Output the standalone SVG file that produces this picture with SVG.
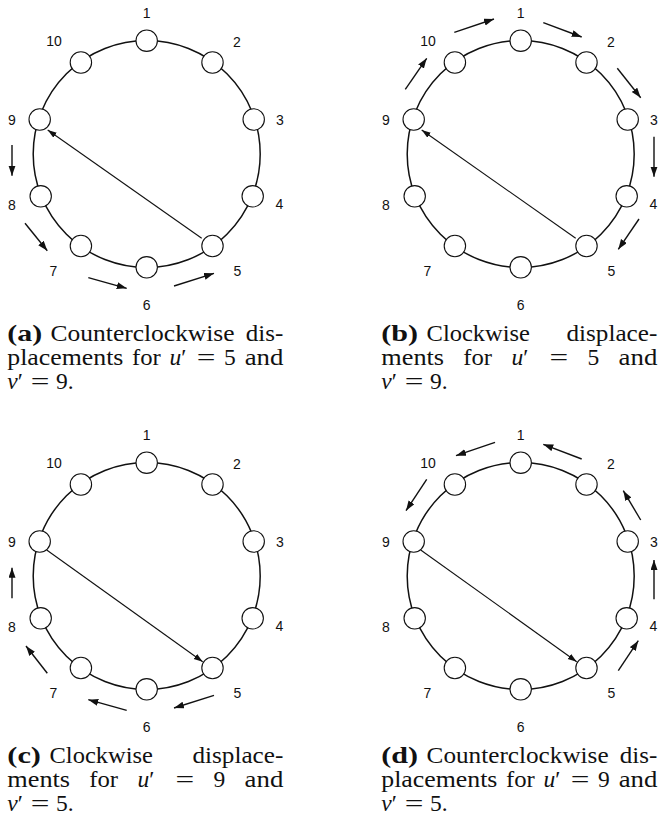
<svg xmlns="http://www.w3.org/2000/svg" width="659" height="827" viewBox="0 0 659 827">
<style>
.ring{fill:none;stroke:#111;stroke-width:1.5}
.node{fill:#fff;stroke:#111;stroke-width:1.1}
.lbl{font-size:14px;fill:#111;text-anchor:middle}
.chord{fill:none;stroke:#111;stroke-width:1.1}
.disp{fill:none;stroke:#111;stroke-width:1.4}
.cap{font-size:23.5px;fill:#111}
.b{font-weight:bold}
.i{font-style:italic}
</style>
<defs>
<marker id="ah" markerUnits="userSpaceOnUse" markerWidth="11" markerHeight="8" refX="10" refY="3.5" orient="auto">
<path d="M0,0 L10,3.5 L0,7 z" fill="#111"/>
</marker>
<marker id="ahc" markerUnits="userSpaceOnUse" markerWidth="10" markerHeight="8" refX="9" refY="3" orient="auto">
<path d="M0,0 L9,3 L0,6 z" fill="#111"/>
</marker>
<g id="ringbase">
<circle class="ring" cx="146.7" cy="154" r="113.5"/>
</g>
</defs>

<!-- Panel (a) -->
<g id="panel-a">
<use href="#ringbase"/>
<g id="a-conn">
<line class="chord" x1="201.7" y1="238.3" x2="47.7" y2="130" marker-end="url(#ahc)"/>
<path class="disp" d="M12,145 L12,175.7" marker-end="url(#ah)"/>
<path class="disp" d="M25,223.3 L47.3,250.7" marker-end="url(#ah)"/>
<path class="disp" d="M88.3,277.7 L126.7,288.3" marker-end="url(#ah)"/>
<path class="disp" d="M174,286 L214,273.3" marker-end="url(#ah)"/>
</g>
<g font-family="Liberation Sans, Arial, sans-serif" style="font-family:'Liberation Sans',Arial,sans-serif">
<g id="a-n1"><circle class="node" cx="146.7" cy="40.7" r="10.7"/><text class="lbl" x="146.7" y="18">1</text></g>
<g id="a-n2"><circle class="node" cx="212.5" cy="62.5" r="10.7"/><text class="lbl" x="237" y="47">2</text></g>
<g id="a-n3"><circle class="node" cx="253.7" cy="119.5" r="10.7"/><text class="lbl" x="280" y="124.5">3</text></g>
<g id="a-n4"><circle class="node" cx="252.7" cy="196.3" r="10.7"/><text class="lbl" x="279.3" y="209.3">4</text></g>
<g id="a-n5"><circle class="node" cx="212.5" cy="246" r="10.7"/><text class="lbl" x="237.3" y="276">5</text></g>
<g id="a-n6"><circle class="node" cx="146.7" cy="267.3" r="10.7"/><text class="lbl" x="146.7" y="310.3">6</text></g>
<g id="a-n7"><circle class="node" cx="80.9" cy="246" r="10.7"/><text class="lbl" x="53.3" y="276">7</text></g>
<g id="a-n8"><circle class="node" cx="40.7" cy="196.3" r="10.7"/><text class="lbl" x="12" y="210.3">8</text></g>
<g id="a-n9"><circle class="node" cx="39.7" cy="119.5" r="10.7"/><text class="lbl" x="12" y="124.6">9</text></g>
<g id="a-n10"><circle class="node" cx="80.9" cy="62.5" r="10.7"/><text class="lbl" x="54" y="46">10</text></g>
</g>
<g id="a-cap" class="cap" font-family="Liberation Serif, Times New Roman, serif" style="font-family:'Liberation Serif','Times New Roman',serif">
<text x="7.3" y="341" class="b" textLength="34.9" lengthAdjust="spacingAndGlyphs">(a)</text>
<text x="50.6" y="341" textLength="184" lengthAdjust="spacingAndGlyphs">Counterclockwise</text>
<text x="245.8" y="341" textLength="37.5" lengthAdjust="spacingAndGlyphs">dis-</text>
<text x="7.3" y="365" textLength="116.1" lengthAdjust="spacingAndGlyphs">placements</text>
<text x="132" y="365" textLength="28.8" lengthAdjust="spacingAndGlyphs">for</text>
<text x="169.4" y="365"><tspan class="i">u</tspan>′</text>
<text x="196.8" y="365" textLength="18.7" lengthAdjust="spacingAndGlyphs">=</text>
<text x="224.1" y="365">5</text>
<text x="244.7" y="365" textLength="38.7" lengthAdjust="spacingAndGlyphs">and</text>
<text x="7.3" y="389"><tspan class="i">v</tspan>′</text>
<text x="30.7" y="389" textLength="18.7" lengthAdjust="spacingAndGlyphs">=</text>
<text x="56.1" y="389">9.</text>
</g>
</g>

<!-- Panel (b) -->
<g id="panel-b" transform="translate(374,0)">
<use href="#ringbase"/>
<g id="b-conn">
<line class="chord" x1="201.7" y1="238.3" x2="47.7" y2="130" marker-end="url(#ahc)"/>
<path class="disp" d="M31.3,89.3 L52.7,58.3" marker-end="url(#ah)"/>
<path class="disp" d="M80.3,32.3 L120,19" marker-end="url(#ah)"/>
<path class="disp" d="M169.3,22.7 L207.7,37" marker-end="url(#ah)"/>
<path class="disp" d="M243.3,68.3 L266.7,97.7" marker-end="url(#ah)"/>
<path class="disp" d="M280,136.7 L280,176.7" marker-end="url(#ah)"/>
<path class="disp" d="M265,219 L244.3,249.3" marker-end="url(#ah)"/>
</g>
<g font-family="Liberation Sans, Arial, sans-serif" style="font-family:'Liberation Sans',Arial,sans-serif">
<g id="b-n1"><circle class="node" cx="146.7" cy="40.7" r="10.7"/><text class="lbl" x="146.7" y="18">1</text></g>
<g id="b-n2"><circle class="node" cx="212.5" cy="62.5" r="10.7"/><text class="lbl" x="237" y="47">2</text></g>
<g id="b-n3"><circle class="node" cx="253.7" cy="119.5" r="10.7"/><text class="lbl" x="280" y="124.5">3</text></g>
<g id="b-n4"><circle class="node" cx="252.7" cy="196.3" r="10.7"/><text class="lbl" x="279.3" y="209.3">4</text></g>
<g id="b-n5"><circle class="node" cx="212.5" cy="246" r="10.7"/><text class="lbl" x="237.3" y="276">5</text></g>
<g id="b-n6"><circle class="node" cx="146.7" cy="267.3" r="10.7"/><text class="lbl" x="146.7" y="310.3">6</text></g>
<g id="b-n7"><circle class="node" cx="80.9" cy="246" r="10.7"/><text class="lbl" x="53.3" y="276">7</text></g>
<g id="b-n8"><circle class="node" cx="40.7" cy="196.3" r="10.7"/><text class="lbl" x="12" y="210.3">8</text></g>
<g id="b-n9"><circle class="node" cx="39.7" cy="119.5" r="10.7"/><text class="lbl" x="12" y="124.6">9</text></g>
<g id="b-n10"><circle class="node" cx="80.9" cy="62.5" r="10.7"/><text class="lbl" x="54" y="46">10</text></g>
</g>
<g id="b-cap" class="cap" font-family="Liberation Serif, Times New Roman, serif" style="font-family:'Liberation Serif','Times New Roman',serif">
<text x="7.3" y="341" class="b" textLength="36.8" lengthAdjust="spacingAndGlyphs">(b)</text>
<text x="52.6" y="341" textLength="103.4" lengthAdjust="spacingAndGlyphs">Clockwise</text>
<text x="192.5" y="341" textLength="90.8" lengthAdjust="spacingAndGlyphs">displace-</text>
<text x="7.3" y="365" textLength="62.8" lengthAdjust="spacingAndGlyphs">ments</text>
<text x="89.3" y="365" textLength="28.8" lengthAdjust="spacingAndGlyphs">for</text>
<text x="137.4" y="365"><tspan class="i">u</tspan>′</text>
<text x="175.4" y="365" textLength="18.7" lengthAdjust="spacingAndGlyphs">=</text>
<text x="213.4" y="365">5</text>
<text x="244.6" y="365" textLength="38.7" lengthAdjust="spacingAndGlyphs">and</text>
<text x="7.3" y="389"><tspan class="i">v</tspan>′</text>
<text x="30.7" y="389" textLength="18.7" lengthAdjust="spacingAndGlyphs">=</text>
<text x="56.1" y="389">9.</text>
</g>
</g>

<!-- Panel (c) -->
<g id="panel-c" transform="translate(0,422)">
<use href="#ringbase"/>
<g id="c-conn">
<line class="chord" x1="46.7" y1="128" x2="202.7" y2="239.7" marker-end="url(#ahc)"/>
<path class="disp" d="M12,176.3 L12,145.7" marker-end="url(#ah)"/>
<path class="disp" d="M47.3,251.3 L26,224" marker-end="url(#ah)"/>
<path class="disp" d="M126.7,288.3 L88.3,277.7" marker-end="url(#ah)"/>
<path class="disp" d="M214,273.3 L174,286" marker-end="url(#ah)"/>
</g>
<g font-family="Liberation Sans, Arial, sans-serif" style="font-family:'Liberation Sans',Arial,sans-serif">
<g id="c-n1"><circle class="node" cx="146.7" cy="40.7" r="10.7"/><text class="lbl" x="146.7" y="18">1</text></g>
<g id="c-n2"><circle class="node" cx="212.5" cy="62.5" r="10.7"/><text class="lbl" x="237" y="47">2</text></g>
<g id="c-n3"><circle class="node" cx="253.7" cy="119.5" r="10.7"/><text class="lbl" x="280" y="124.5">3</text></g>
<g id="c-n4"><circle class="node" cx="252.7" cy="196.3" r="10.7"/><text class="lbl" x="279.3" y="209.3">4</text></g>
<g id="c-n5"><circle class="node" cx="212.5" cy="246" r="10.7"/><text class="lbl" x="237.3" y="276">5</text></g>
<g id="c-n6"><circle class="node" cx="146.7" cy="267.3" r="10.7"/><text class="lbl" x="146.7" y="310.3">6</text></g>
<g id="c-n7"><circle class="node" cx="80.9" cy="246" r="10.7"/><text class="lbl" x="53.3" y="276">7</text></g>
<g id="c-n8"><circle class="node" cx="40.7" cy="196.3" r="10.7"/><text class="lbl" x="12" y="210.3">8</text></g>
<g id="c-n9"><circle class="node" cx="39.7" cy="119.5" r="10.7"/><text class="lbl" x="12" y="124.6">9</text></g>
<g id="c-n10"><circle class="node" cx="80.9" cy="62.5" r="10.7"/><text class="lbl" x="54" y="46">10</text></g>
</g>
<g id="c-cap" class="cap" font-family="Liberation Serif, Times New Roman, serif" style="font-family:'Liberation Serif','Times New Roman',serif">
<text x="7.3" y="341" class="b" textLength="33.7" lengthAdjust="spacingAndGlyphs">(c)</text>
<text x="49.5" y="341" textLength="103.4" lengthAdjust="spacingAndGlyphs">Clockwise</text>
<text x="192.5" y="341" textLength="90.8" lengthAdjust="spacingAndGlyphs">displace-</text>
<text x="7.3" y="365" textLength="62.8" lengthAdjust="spacingAndGlyphs">ments</text>
<text x="89.3" y="365" textLength="28.8" lengthAdjust="spacingAndGlyphs">for</text>
<text x="137.4" y="365"><tspan class="i">u</tspan>′</text>
<text x="175.4" y="365" textLength="18.7" lengthAdjust="spacingAndGlyphs">=</text>
<text x="213.4" y="365">9</text>
<text x="244.6" y="365" textLength="38.7" lengthAdjust="spacingAndGlyphs">and</text>
<text x="7.3" y="389"><tspan class="i">v</tspan>′</text>
<text x="30.7" y="389" textLength="18.7" lengthAdjust="spacingAndGlyphs">=</text>
<text x="56.1" y="389">5.</text>
</g>
</g>

<!-- Panel (d) -->
<g id="panel-d" transform="translate(374,422)">
<use href="#ringbase"/>
<g id="d-conn">
<line class="chord" x1="46.7" y1="128" x2="202.7" y2="239.7" marker-end="url(#ahc)"/>
<path class="disp" d="M121,20.3 L82,33.7" marker-end="url(#ah)"/>
<path class="disp" d="M207.7,37 L169.3,22.3" marker-end="url(#ah)"/>
<path class="disp" d="M266.7,98 L249.3,68.7" marker-end="url(#ah)"/>
<path class="disp" d="M280,177.3 L280,138" marker-end="url(#ah)"/>
<path class="disp" d="M244.3,248.7 L264.3,218.7" marker-end="url(#ah)"/>
<path class="disp" d="M52.7,57.3 L32,88.7" marker-end="url(#ah)"/>
</g>
<g font-family="Liberation Sans, Arial, sans-serif" style="font-family:'Liberation Sans',Arial,sans-serif">
<g id="d-n1"><circle class="node" cx="146.7" cy="40.7" r="10.7"/><text class="lbl" x="146.7" y="18">1</text></g>
<g id="d-n2"><circle class="node" cx="212.5" cy="62.5" r="10.7"/><text class="lbl" x="237" y="47">2</text></g>
<g id="d-n3"><circle class="node" cx="253.7" cy="119.5" r="10.7"/><text class="lbl" x="280" y="124.5">3</text></g>
<g id="d-n4"><circle class="node" cx="252.7" cy="196.3" r="10.7"/><text class="lbl" x="279.3" y="209.3">4</text></g>
<g id="d-n5"><circle class="node" cx="212.5" cy="246" r="10.7"/><text class="lbl" x="237.3" y="276">5</text></g>
<g id="d-n6"><circle class="node" cx="146.7" cy="267.3" r="10.7"/><text class="lbl" x="146.7" y="310.3">6</text></g>
<g id="d-n7"><circle class="node" cx="80.9" cy="246" r="10.7"/><text class="lbl" x="53.3" y="276">7</text></g>
<g id="d-n8"><circle class="node" cx="40.7" cy="196.3" r="10.7"/><text class="lbl" x="12" y="210.3">8</text></g>
<g id="d-n9"><circle class="node" cx="39.7" cy="119.5" r="10.7"/><text class="lbl" x="12" y="124.6">9</text></g>
<g id="d-n10"><circle class="node" cx="80.9" cy="62.5" r="10.7"/><text class="lbl" x="54" y="46">10</text></g>
</g>
<g id="d-cap" class="cap" font-family="Liberation Serif, Times New Roman, serif" style="font-family:'Liberation Serif','Times New Roman',serif">
<text x="7.3" y="341" class="b" textLength="36.8" lengthAdjust="spacingAndGlyphs">(d)</text>
<text x="52.6" y="341" textLength="182" lengthAdjust="spacingAndGlyphs">Counterclockwise</text>
<text x="245.8" y="341" textLength="37.5" lengthAdjust="spacingAndGlyphs">dis-</text>
<text x="7.3" y="365" textLength="116.1" lengthAdjust="spacingAndGlyphs">placements</text>
<text x="132" y="365" textLength="28.8" lengthAdjust="spacingAndGlyphs">for</text>
<text x="169.4" y="365"><tspan class="i">u</tspan>′</text>
<text x="196.8" y="365" textLength="18.7" lengthAdjust="spacingAndGlyphs">=</text>
<text x="224.1" y="365">9</text>
<text x="244.7" y="365" textLength="38.7" lengthAdjust="spacingAndGlyphs">and</text>
<text x="7.3" y="389"><tspan class="i">v</tspan>′</text>
<text x="30.7" y="389" textLength="18.7" lengthAdjust="spacingAndGlyphs">=</text>
<text x="56.1" y="389">5.</text>
</g>
</g>
</svg>
